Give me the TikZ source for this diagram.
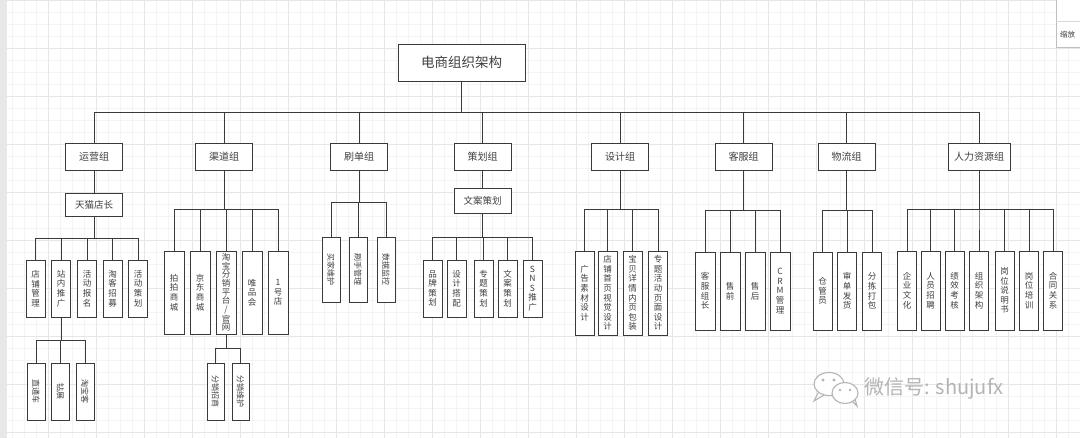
\documentclass[tikz,border=0pt]{standalone}
\usepackage{fontspec}
\setmainfont{Noto Sans CJK SC}
\usetikzlibrary{calc}
\definecolor{ln}{HTML}{3A3A3A}
\definecolor{tx}{HTML}{404040}
\definecolor{gminor}{HTML}{F4F4F4}
\definecolor{gmajor}{HTML}{E6E6E6}
\definecolor{wm}{HTML}{B4B4B4}
\begin{document}
\begin{tikzpicture}[x=1pt,y=-1pt,
  box/.style={draw=ln,line width=0.9pt,fill=white,inner sep=0pt,text=tx},
  rootbox/.style={box,minimum width=127pt,minimum height=37pt,font=\fontsize{13.5}{15}\selectfont},
  grp/.style={box,minimum width=57pt,minimum height=27pt,font=\fontsize{10}{12}\selectfont},
  sub/.style={box,minimum width=57pt,font=\fontsize{9.5}{11}\selectfont},
  leaf/.style={box,minimum width=19pt,align=center,font=\fontsize{8.5}{9.6}\selectfont},
  rtext/.style={rotate=-90,text=tx,inner sep=0pt,font=\fontsize{8}{9}\selectfont},
  wire/.style={draw=ln,line width=0.9pt}]
\useasboundingbox (0,0) rectangle (1080,438);
% background
\fill[white] (0,0) rectangle (1080,438);
\draw[gminor,line width=0.5pt,step=12pt] (0,0) grid (1080,438);
\draw[gmajor,line width=0.6pt,step=48pt] (0,0) grid (1080,438);
\fill[black!9] (0,0) rectangle (7,438);
% zoom panel top right
\draw[black!25,fill=white] (1056,-2) rectangle (1082,47);
\draw[black!15] (1056,21) -- (1082,21);
\node[anchor=west,inner sep=0pt,text=tx,font=\fontsize{7.5}{8}\selectfont] (zoomtxt) at (1060,35) {缩放};

% root
\node[rootbox] (r) at (461.5,62.5) {电商组织架构};
\coordinate (B0) at (0,112);

% groups
\node[grp] (g1) at (94,156.5) {运营组};
\node[grp] (g2) at (224,156.5) {渠道组};
\node[grp] (g3) at (359,156.5) {刷单组};
\node[grp] (g4) at (482.5,156.5) {策划组};
\node[grp] (g5) at (620,156.5) {设计组};
\node[grp] (g6) at (743.5,156.5) {客服组};
\node[grp] (g7) at (846.5,156.5) {物流组};
\node[grp,minimum width=62pt] (g8) at (979,156.5) {人力资源组};
\foreach \g in {g1,g2,g3,g4,g5,g6,g7,g8}
  \draw[wire] (r.south) -- (r.south |- B0) -| (\g.north);

% ---- 运营组
\node[sub,minimum height=23pt] (s1) at (94,204.5) {天猫店长};
\draw[wire] (g1.south) -- (s1.north);
\coordinate (B1) at (0,238);
\node[leaf,minimum height=57pt] (a1) at (35.5,288.5) {店\\铺\\管\\理};
\node[leaf,minimum height=57pt] (a2) at (61,288.5) {站\\内\\推\\广};
\node[leaf,minimum height=57pt] (a3) at (87,288.5) {活\\动\\报\\名};
\node[leaf,minimum height=57pt] (a4) at (112.5,288.5) {淘\\客\\招\\募};
\node[leaf,minimum height=57pt] (a5) at (138,288.5) {活\\动\\策\\划};
\foreach \c in {a1,a2,a3,a4,a5}
  \draw[wire] (s1.south) -- (s1.south |- B1) -| (\c.north);
\coordinate (B1b) at (0,340);
\node[leaf,minimum width=18pt,minimum height=57pt] (a21) at (36,391.5) {};
\node[leaf,minimum width=18pt,minimum height=57pt] (a22) at (60.5,391.5) {};
\node[leaf,minimum width=18pt,minimum height=57pt] (a23) at (85,391.5) {};
\node[rtext] at (a21) {直通车};
\node[rtext] at (a22) {钻展};
\node[rtext] at (a23) {淘宝客};
\foreach \c in {a21,a22,a23}
  \draw[wire] (a2.south) -- (a2.south |- B1b) -| (\c.north);

% ---- 渠道组
\coordinate (B2) at (0,209);
\node[leaf,minimum width=20pt,minimum height=83pt] (b1) at (174,292.5) {拍\\拍\\商\\城};
\node[leaf,minimum width=20pt,minimum height=83pt] (b2) at (200,292.5) {京\\东\\商\\城};
\node[leaf,minimum width=20pt,minimum height=83pt,font=\fontsize{8.5}{8.6}\selectfont] (b3) at (226,292.5) {淘\\宝\\分\\销\\平\\台\\/\\官\\网};
\node[leaf,minimum width=20pt,minimum height=83pt] (b4) at (252,292.5) {唯\\品\\会};
\node[leaf,minimum width=20pt,minimum height=83pt] (b5) at (278,292.5) {1\\号\\店};
\foreach \c in {b1,b2,b3,b4,b5}
  \draw[wire] (g2.south) -- (g2.south |- B2) -| (\c.north);
\coordinate (B2b) at (0,348);
\node[leaf,minimum width=17pt,minimum height=57pt] (b31) at (215.5,391.5) {};
\node[leaf,minimum width=17pt,minimum height=57pt] (b32) at (240.5,391.5) {};
\node[rtext] at (b31) {分销招商};
\node[rtext] at (b32) {分销维护};
\foreach \c in {b31,b32}
  \draw[wire] (b3.south) -- (b3.south |- B2b) -| (\c.north);

% ---- 刷单组
\coordinate (B3) at (0,202);
\node[leaf,minimum width=18pt,minimum height=65pt] (c1) at (331,269.5) {};
\node[leaf,minimum width=18pt,minimum height=65pt] (c2) at (358,269.5) {};
\node[leaf,minimum width=18pt,minimum height=65pt] (c3) at (386,269.5) {};
\node[rtext] at (c1) {买家维护};
\node[rtext] at (c2) {刷手管理};
\node[rtext] at (c3) {数据监控};
\foreach \c in {c1,c2,c3}
  \draw[wire] (g3.south) -- (g3.south |- B3) -| (\c.north);

% ---- 策划组
\node[sub,minimum height=25pt] (s4) at (482.5,200.5) {文案策划};
\draw[wire] (g4.south) -- (s4.north);
\coordinate (B4) at (0,237);
\node[leaf,minimum height=57pt] (d1) at (432.5,288.5) {品\\牌\\策\\划};
\node[leaf,minimum height=57pt] (d2) at (456.5,288.5) {设\\计\\搭\\配};
\node[leaf,minimum height=57pt] (d3) at (483.5,288.5) {专\\题\\策\\划};
\node[leaf,minimum height=57pt] (d4) at (507.5,288.5) {文\\案\\策\\划};
\node[leaf,minimum height=57pt] (d5) at (532.5,288.5) {S\\N\\S\\推\\广};
\foreach \c in {d1,d2,d3,d4,d5}
  \draw[wire] (s4.south) -- (s4.south |- B4) -| (\c.north);

% ---- 设计组
\coordinate (B5) at (0,209);
\node[leaf,minimum height=84pt] (e1) at (584.5,293) {广\\告\\素\\材\\设\\计};
\node[leaf,minimum height=84pt] (e2) at (607.5,293) {店\\铺\\首\\页\\视\\觉\\设\\计};
\node[leaf,minimum height=84pt] (e3) at (632.5,293) {宝\\贝\\详\\情\\内\\页\\包\\装};
\node[leaf,minimum height=84pt] (e4) at (658,293) {专\\题\\活\\动\\页\\面\\设\\计};
\foreach \c in {e1,e2,e3,e4}
  \draw[wire] (g5.south) -- (g5.south |- B5) -| (\c.north);

% ---- 客服组
\coordinate (B6) at (0,210);
\node[leaf,minimum width=20pt,minimum height=78pt] (f1) at (705,291) {客\\服\\组\\长};
\node[leaf,minimum width=20pt,minimum height=78pt] (f2) at (730,291) {售\\前};
\node[leaf,minimum width=20pt,minimum height=78pt] (f3) at (755,291) {售\\后};
\node[leaf,minimum width=20pt,minimum height=78pt] (f4) at (780,291) {C\\R\\M\\管\\理};
\foreach \c in {f1,f2,f3,f4}
  \draw[wire] (g6.south) -- (g6.south |- B6) -| (\c.north);

% ---- 物流组
\coordinate (B7) at (0,210);
\node[leaf,minimum height=78pt] (h1) at (822.5,291) {仓\\管\\员};
\node[leaf,minimum height=78pt] (h2) at (847,291) {审\\单\\发\\货};
\node[leaf,minimum height=78pt] (h3) at (872,291) {分\\拣\\打\\包};
\foreach \c in {h1,h2,h3}
  \draw[wire] (g7.south) -- (g7.south |- B7) -| (\c.north);

% ---- 人力资源组
\coordinate (B8) at (0,209);
\node[leaf,minimum height=79pt] (k1) at (907,290.5) {企\\业\\文\\化};
\node[leaf,minimum height=79pt] (k2) at (930.5,290.5) {人\\员\\招\\聘};
\node[leaf,minimum height=79pt] (k3) at (954.5,290.5) {绩\\效\\考\\核};
\node[leaf,minimum height=79pt] (k4) at (979,290.5) {组\\织\\架\\构};
\node[leaf,minimum height=79pt] (k5) at (1004.5,290.5) {岗\\位\\说\\明\\书};
\node[leaf,minimum height=79pt] (k6) at (1029,290.5) {岗\\位\\培\\训};
\node[leaf,minimum height=79pt] (k7) at (1053,290.5) {合\\同\\关\\系};
\foreach \c in {k1,k2,k3,k4,k5,k6,k7}
  \draw[wire] (g8.south) -- (g8.south |- B8) -| (\c.north);

% ---- watermark
\draw[wm,line width=1.1pt,fill=white] (829,384) ellipse [x radius=15pt, y radius=11.5pt];
\draw[wm,line width=1.1pt] (818,393) -- (814,401) -- (824,395);
\draw[wm,line width=1.1pt,fill=white] (845,393) ellipse [x radius=13pt, y radius=10.5pt];
\draw[wm,line width=1.1pt] (852,401) -- (857,406) -- (855,399);
\fill[wm] (823,380) circle (1.6pt) (834,380) circle (1.6pt);
\fill[wm] (840,390) circle (1.3pt) (850,390) circle (1.3pt);
\node[anchor=west,inner sep=0pt,text=wm,font=\fontsize{20}{22}\selectfont] (wmt) at (864,389) {微信号: shujufx};
\end{tikzpicture}
\end{document}
